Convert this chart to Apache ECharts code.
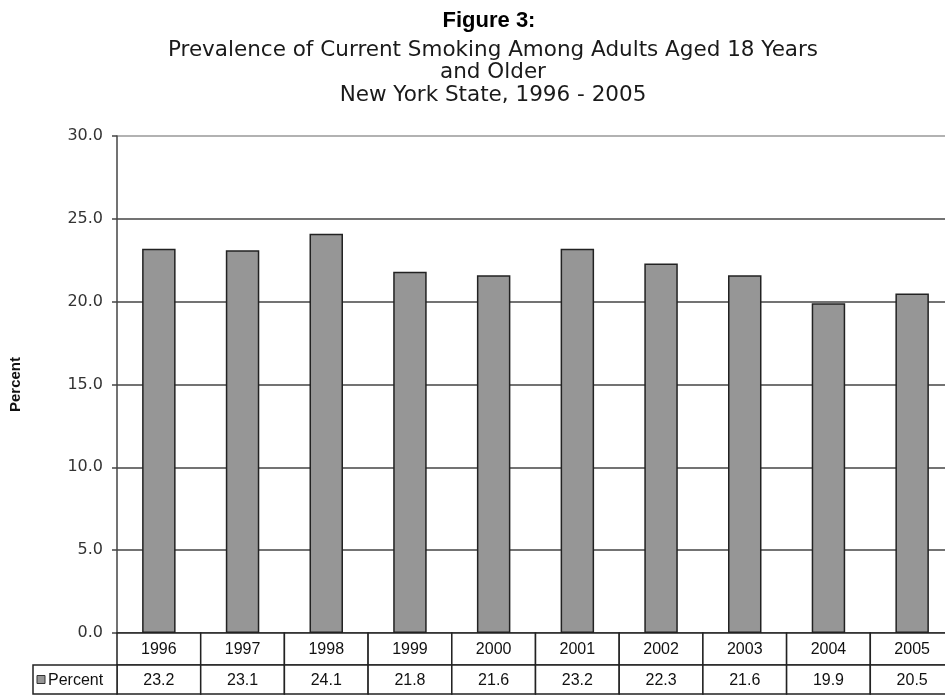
<!DOCTYPE html>
<html>
<head>
<meta charset="utf-8">
<script src="https://cdn.jsdelivr.net/npm/echarts@6/dist/echarts.min.js"></script>
<style>
  html, body { margin: 0; padding: 0; background: #fff; }
  #chart { width: 945px; height: 696px; }
</style>
</head>
<body>
<div id="chart"></div>
<script>
// Survey years and adult smoking prevalence (percent)
const years = ['1996', '1997', '1998', '1999', '2000', '2001', '2002', '2003', '2004', '2005'];
const percent = [23.2, 23.1, 24.1, 21.8, 21.6, 23.2, 22.3, 21.6, 19.9, 20.5];
const seriesName = 'Percent';

const chart = echarts.init(document.getElementById('chart'), null, { renderer: 'canvas' });

const cellFont = '16px "Liberation Sans", Arial, sans-serif';
const border = '#222';

// Data table under the plot: one column per year, with the legend cell on the left
function renderTable(params, api) {
  const idx = api.value(0);
  const base = api.coord([idx, 0]);
  const w = api.size([1, 0])[0];
  const x0 = base[0] - w / 2;
  const y0 = base[1];
  const h1 = 32, h2 = 29;
  const children = [
    { type: 'rect', shape: { x: x0, y: y0, width: w, height: h1 },
      style: { fill: '#fff', stroke: border, lineWidth: 1.5 } },
    { type: 'rect', shape: { x: x0, y: y0 + h1, width: w, height: h2 },
      style: { fill: '#fff', stroke: border, lineWidth: 1.5 } },
    { type: 'text', x: base[0], y: y0 + h1 / 2 + 1,
      style: { text: years[idx], font: cellFont, fill: '#111', align: 'center', verticalAlign: 'middle' } },
    { type: 'text', x: base[0], y: y0 + h1 + h2 / 2 + 1,
      style: { text: api.value(1).toFixed(1), font: cellFont, fill: '#111', align: 'center', verticalAlign: 'middle' } }
  ];
  if (idx === 0) {
    const lw = 84;
    children.push(
      { type: 'rect', shape: { x: x0 - lw, y: y0 + h1, width: lw, height: h2 },
        style: { fill: '#fff', stroke: border, lineWidth: 1.5 } },
      { type: 'rect', shape: { x: x0 - lw + 4, y: y0 + h1 + h2 / 2 - 4, width: 8, height: 8 },
        style: { fill: '#969696', stroke: '#333', lineWidth: 1 } },
      { type: 'text', x: x0 - lw + 15, y: y0 + h1 + h2 / 2 + 1,
        style: { text: seriesName, font: cellFont, fill: '#111', align: 'left', verticalAlign: 'middle' } }
    );
  }
  return { type: 'group', children: children };
}

chart.setOption({
  backgroundColor: '#fff',
  animation: false,
  title: [
    {
      text: 'Figure 3:',
      left: 484, top: 5, textAlign: 'center',
      textStyle: { fontFamily: '"Liberation Sans", Arial, sans-serif', fontSize: 22, fontWeight: 'bold', color: '#000' }
    },
    {
      text: 'Prevalence of Current Smoking Among Adults Aged 18 Years\nand Older\nNew York State, 1996 - 2005',
      left: 488, top: 34, textAlign: 'center',
      textStyle: { fontFamily: '"DejaVu Sans", Verdana, sans-serif', fontSize: 21.5, fontWeight: 'normal', color: '#1a1a1a', lineHeight: 22.5 }
    }
  ],
  grid: {
    left: 117, top: 136, height: 497, width: 837,
    containLabel: false,
    outerBoundsMode: 'none'
  },
  xAxis: {
    type: 'category',
    data: years,
    boundaryGap: true,
    axisLine: { show: false },
    axisTick: { show: false },
    axisLabel: { show: false },
    splitLine: { show: false }
  },
  yAxis: {
    type: 'value',
    min: 0, max: 30, interval: 5,
    name: 'Percent',
    nameLocation: 'middle',
    nameGap: 94,
    nameRotate: 90,
    nameTextStyle: { fontFamily: '"Liberation Sans", Arial, sans-serif', fontSize: 15, fontWeight: 'bold', color: '#111' },
    axisLine: { show: true, lineStyle: { color: '#444', width: 1.5 } },
    axisTick: { show: true, inside: false, length: 5, lineStyle: { color: '#444', width: 1.5 } },
    axisLabel: {
      margin: 14,
      formatter: v => v.toFixed(1),
      fontFamily: '"DejaVu Sans", Verdana, sans-serif', fontSize: 16, color: '#333'
    },
    splitLine: { show: true, lineStyle: { color: ['#444', '#444', '#444', '#444', '#444', '#444', '#999'], width: 1.5 } }
  },
  series: [
    {
      name: seriesName,
      type: 'bar',
      data: percent,
      barWidth: '40%',
      itemStyle: { color: '#969696', borderColor: '#222', borderWidth: 1.5 },
      z: 3
    },
    {
      type: 'custom',
      data: years.map((y, i) => [i, percent[i]]),
      renderItem: renderTable,
      clip: false,
      silent: true,
      z: 4
    }
  ]
});
</script>
</body>
</html>
